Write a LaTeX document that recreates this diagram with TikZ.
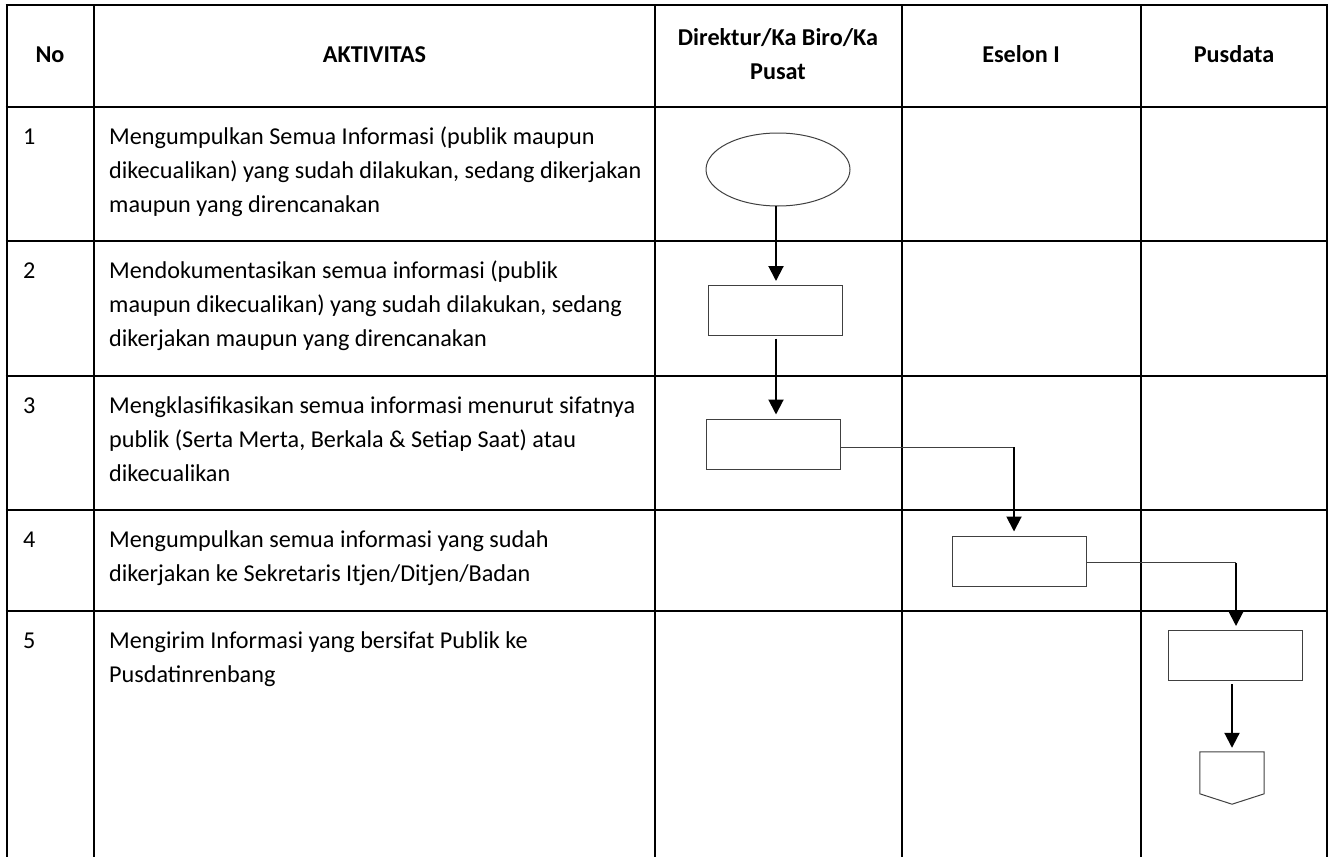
\documentclass[tikz,border=0pt]{standalone}
\usepackage{fontspec}
\setmainfont{Carlito}
\usetikzlibrary{arrows.meta,calc,shapes.geometric}

\begin{document}
\begin{tikzpicture}[x=1pt,y=-1pt,
  grid/.style={line width=2pt,black},
  cell/.style={inner sep=0pt,font=\fontsize{24.2}{34}\selectfont},
  head/.style={inner sep=0pt,anchor=north,align=center,font=\fontsize{24.2}{34}\selectfont\bfseries},
  desc/.style={cell,anchor=north west,align=left},
  num/.style={cell,anchor=north west},
  procbox/.style={draw=black!75,line width=1pt,minimum width=134pt,minimum height=50pt,inner sep=0pt},
  startoval/.style={draw=black!75,line width=1pt,ellipse,minimum width=144pt,minimum height=73pt,inner sep=0pt},
  link/.style={draw=black!75,line width=1pt},
  flow/.style={line width=2pt,-{Triangle[width=15pt,length=15pt]}},
]
\useasboundingbox (0,0) rectangle (1332,856);

% table grid
\foreach \y in {5.5,107,241,376,510,611}
  \draw[grid] (5.5,\y) -- (1328,\y);
\foreach \x in {6.5,94,654.5,901.5,1141,1327}
  \draw[grid] (\x,4.5) -- (\x,860);

% header
\node[head] (hNo)  at (50,38.5)    {\strut No};
\node[head] (hAkt) at (374.5,38.5) {\strut AKTIVITAS};
\node[head] (hDir) at (778,21.5)   {\strut Direktur/Ka Biro/Ka\\Pusat};
\node[head] (hEs)  at (1021,38.5)  {\strut Eselon I};
\node[head] (hPus) at (1234,38.5)  {\strut Pusdata};

% activity rows
\node[num] (n1) at (23,120) {\strut 1};
\node[desc] (d1) at (109,120) {\strut Mengumpulkan Semua Informasi (publik maupun\\dikecualikan) yang sudah dilakukan, sedang dikerjakan\\maupun yang direncanakan};
\node[num] (n2) at (23,254) {\strut 2};
\node[desc] (d2) at (109,254) {\strut Mendokumentasikan semua informasi (publik\\maupun dikecualikan) yang sudah dilakukan, sedang\\dikerjakan maupun yang direncanakan};
\node[num] (n3) at (23,389) {\strut 3};
\node[desc] (d3) at (109,389) {\strut Mengklasifikasikan semua informasi menurut sifatnya\\publik (Serta Merta, Berkala \& Setiap Saat) atau\\dikecualikan};
\node[num] (n4) at (23,523) {\strut 4};
\node[desc] (d4) at (109,523) {\strut Mengumpulkan semua informasi yang sudah\\dikerjakan ke Sekretaris Itjen/Ditjen/Badan};
\node[num] (n5) at (23,624) {\strut 5};
\node[desc] (d5) at (109,624) {\strut Mengirim Informasi yang bersifat Publik ke\\Pusdatinrenbang};

% flow symbols
\node[startoval] (s1) at (778,169.5) {};
\node[procbox] (b2) at (775,310) {};
\node[procbox] (b3) at (773,444) {};
\node[procbox] (b4) at (1019,561) {};
\node[procbox] (b5) at (1235,655.5) {};
\node[inner sep=0pt,minimum width=64pt,minimum height=52pt] (off) at (1232,778) {};
\draw[link] (off.north west) -- (off.north east) -- ($(off.north east)+(0,42)$)
  -- (off.south) -- ($(off.north west)+(0,42)$) -- cycle;

% connectors
\coordinate (c34) at (1014,447);
\coordinate (c45) at (1236,562.5);
\draw[flow] (776,206) -- (776,281);
\draw[flow,shorten <=3pt,shorten >=4pt] (b2.south -| 776,0) -- (b3.north -| 776,0);
\draw[link] (b3.east |- c34) -- (c34);
\draw[flow,shorten >=4pt] (c34) -- (c34 |- b4.north);
\draw[link] (b4.east |- c45) -- (c45);
\draw[flow,shorten >=4pt] (c45) -- (c45 |- b5.north);
\draw[flow,shorten <=3pt,shorten >=4pt] (b5.south -| off.north) -- (off.north);
\end{tikzpicture}
\end{document}
